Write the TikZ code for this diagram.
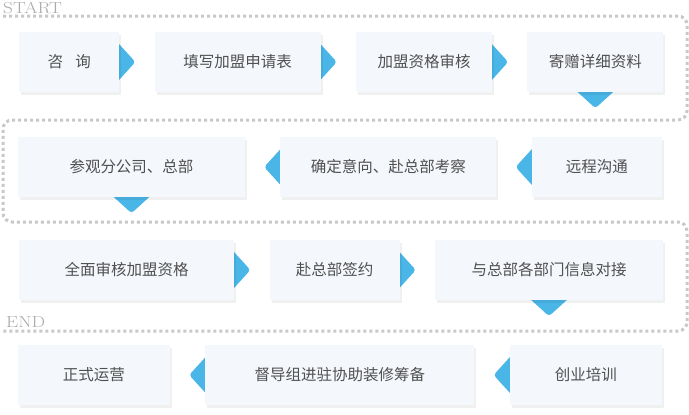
\documentclass[tikz,border=0pt]{standalone}
\usepackage{fontspec}
\newfontfamily\cjk{Noto Sans CJK SC}
\usetikzlibrary{positioning,shadows,backgrounds}

\definecolor{boxbg}{RGB}{244,247,252}
\definecolor{tipblue}{RGB}{74,182,232}
\definecolor{boxtext}{RGB}{80,80,80}
\definecolor{dotgray}{RGB}{200,200,200}
\definecolor{labelgray}{RGB}{170,170,170}

\begin{document}
\begin{tikzpicture}[
    x=1pt, y=-1pt,
    node distance=35pt,
    box/.style={fill=boxbg, inner sep=0pt, minimum height=60pt, text=boxtext,
        font=\cjk\fontsize{15.5}{18}\selectfont,
        drop shadow={shadow xshift=2pt, shadow yshift=-3pt, fill=black, opacity=0.06}},
    tip/.style={fill=tipblue, rounded corners=3pt},
    frame/.style={draw=dotgray, line width=3pt, dash pattern=on 3pt off 3pt, rounded corners=9pt},
    tag/.style={text=labelgray, inner sep=0pt, font=\fontsize{16}{16}\selectfont}
]
\useasboundingbox (0,0) rectangle (689,415);

% dotted frame
\draw[frame] (3,16) -- (687,16) -- (687,120) -- (3,120) -- (3,222) -- (687,222) -- (687,331) -- (3,331);
\node[tag, anchor=base west] (start) at (3,13) {\scalebox{1.2}[1]{START}};
\node[tag, anchor=base west] (end) at (6,327) {\scalebox{1.2}[1]{END}};

% row 1
\node[box, minimum width=100pt, anchor=west] (zixun) at (19,62) {咨\hspace{0.8em}询};
\node[box, minimum width=166pt, right=of zixun] (tianxie) {填写加盟申请表};
\node[box, minimum width=136pt, right=of tianxie] (shenhe) {加盟资格审核};
\node[box, minimum width=136pt, right=of shenhe] (jizeng) {寄赠详细资料};

% row 2
\node[box, minimum width=130pt, anchor=east] (goutong) at (662,167) {远程沟通};
\node[box, minimum width=216pt, left=of goutong] (kaocha) {确定意向、赴总部考察};
\node[box, minimum width=227pt, left=of kaocha] (canguan) {参观分公司、总部};

% row 3
\node[box, minimum width=215pt, anchor=west] (quanmian) at (19,270) {全面审核加盟资格};
\node[box, minimum width=130pt, right=of quanmian] (qianyue) {赴总部签约};
\node[box, minimum width=228pt, right=of qianyue] (duijie) {与总部各部门信息对接};

% row 4
\node[box, minimum width=152pt, anchor=east] (peixun) at (662,375) {创业培训};
\node[box, minimum width=269pt, left=of peixun] (dudao) {督导组进驻协助装修筹备};
\node[box, minimum width=152pt, left=of dudao] (yunying) {正式运营};

\begin{scope}[on background layer]
\fill[tip] ([shift={(-4pt,22pt)}]zixun.east) -- ([xshift=16pt]zixun.east) -- ([shift={(-4pt,-22pt)}]zixun.east) -- cycle;
\fill[tip] ([shift={(-4pt,22pt)}]tianxie.east) -- ([xshift=16pt]tianxie.east) -- ([shift={(-4pt,-22pt)}]tianxie.east) -- cycle;
\fill[tip] ([shift={(-4pt,22pt)}]shenhe.east) -- ([xshift=16pt]shenhe.east) -- ([shift={(-4pt,-22pt)}]shenhe.east) -- cycle;
\fill[tip] ([shift={(-22pt,4pt)}]jizeng.south) -- ([yshift=-16pt]jizeng.south) -- ([shift={(22pt,4pt)}]jizeng.south) -- cycle;
\fill[tip] ([shift={(4pt,22pt)}]goutong.west) -- ([xshift=-16pt]goutong.west) -- ([shift={(4pt,-22pt)}]goutong.west) -- cycle;
\fill[tip] ([shift={(4pt,22pt)}]kaocha.west) -- ([xshift=-16pt]kaocha.west) -- ([shift={(4pt,-22pt)}]kaocha.west) -- cycle;
\fill[tip] ([shift={(-22pt,4pt)}]canguan.south) -- ([yshift=-16pt]canguan.south) -- ([shift={(22pt,4pt)}]canguan.south) -- cycle;
\fill[tip] ([shift={(-4pt,22pt)}]quanmian.east) -- ([xshift=16pt]quanmian.east) -- ([shift={(-4pt,-22pt)}]quanmian.east) -- cycle;
\fill[tip] ([shift={(-4pt,22pt)}]qianyue.east) -- ([xshift=16pt]qianyue.east) -- ([shift={(-4pt,-22pt)}]qianyue.east) -- cycle;
\fill[tip] ([shift={(-22pt,4pt)}]duijie.south) -- ([yshift=-16pt]duijie.south) -- ([shift={(22pt,4pt)}]duijie.south) -- cycle;
\fill[tip] ([shift={(4pt,22pt)}]peixun.west) -- ([xshift=-16pt]peixun.west) -- ([shift={(4pt,-22pt)}]peixun.west) -- cycle;
\fill[tip] ([shift={(4pt,22pt)}]dudao.west) -- ([xshift=-16pt]dudao.west) -- ([shift={(4pt,-22pt)}]dudao.west) -- cycle;
\end{scope}
\end{tikzpicture}
\end{document}
